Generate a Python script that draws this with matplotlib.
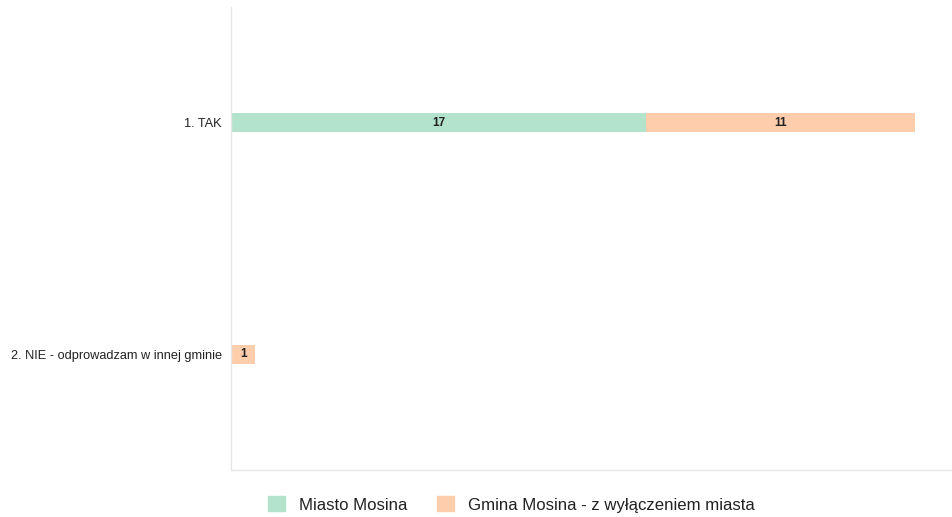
import matplotlib.pyplot as plt
from matplotlib.patches import Patch

plt.rcParams['font.family'] = ['Liberation Sans', 'DejaVu Sans']

categories = ['1. TAK', '2. NIE - odprowadzam w innej gminie']
series_names = ['Miasto Mosina', 'Gmina Mosina - z wyłączeniem miasta']
miasto = [17, 0]
gmina = [11, 1]
colors = ['#b3e2cd', '#fdcdac']

fig = plt.figure(figsize=(9.52, 5.17), dpi=100)
ax = fig.add_axes([0.2426, 0.0909, 0.7574, 0.8956])

y = list(range(len(categories)))
left = [0] * len(categories)
for vals, col in zip([miasto, gmina], colors):
    bars = ax.barh(y, vals, left=left, height=0.082, color=col)
    for b, v in zip(bars, vals):
        if v > 0:
            ax.text(b.get_x() + b.get_width() / 2, b.get_y() + b.get_height() / 2, str(v),
                    ha='center', va='center', fontsize=8.5, fontweight='bold', color='#222222')
    left = [l + v for l, v in zip(left, vals)]

ax.set_ylim(1.5, -0.5)
ax.set_xlim(0, 29.5)
ax.set_yticks(y)
ax.set_yticklabels(categories, fontsize=9.2, color='#222222')
ax.tick_params(axis='y', length=0, pad=6.5)
ax.set_xticks([])
for s in ['top', 'right']:
    ax.spines[s].set_visible(False)
for s in ['left', 'bottom']:
    ax.spines[s].set_color('#e6e6e6')
    ax.spines[s].set_linewidth(1)

handles = [Patch(color=c, label=n) for c, n in zip(colors, series_names)]
fig.legend(handles=handles, loc='center', bbox_to_anchor=(0.537, 0.024), ncol=2,
           frameon=False, fontsize=12.1, handlelength=1.0, handleheight=1.0,
           handletextpad=0.85, columnspacing=1.75, labelcolor='#222222')

fig.savefig('out.png', dpi=100)
